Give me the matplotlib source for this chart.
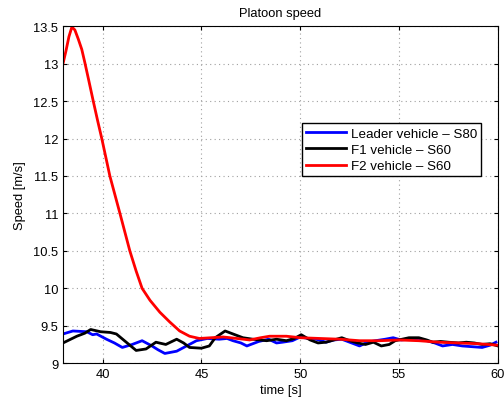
import matplotlib
matplotlib.use("Agg")
import matplotlib.pyplot as plt

plt.rcParams['font.family'] = ['Liberation Sans', 'DejaVu Sans']
plt.rcParams['font.size'] = 9.3

# Leader vehicle - S80
leader_t = [38.0, 38.5, 39.2, 39.5, 39.7, 40.2, 40.6, 41.0, 41.5, 42.0, 42.5, 42.8,
            43.15, 43.75, 44.25, 44.75, 45.3, 45.9, 46.3, 46.6, 47.0, 47.3, 47.9,
            48.4, 48.8, 49.1, 49.6, 50.0, 50.4, 50.8, 51.3, 51.7, 52.1, 52.6, 53.0,
            53.4, 53.8, 54.3, 54.7, 55.1, 55.5, 56.0, 56.4, 56.8, 57.2, 57.7, 58.2,
            58.7, 59.2, 59.6, 59.9]
leader_v = [9.39, 9.43, 9.42, 9.38, 9.39, 9.32, 9.27, 9.21, 9.25, 9.30, 9.23, 9.18,
            9.13, 9.16, 9.23, 9.30, 9.33, 9.32, 9.33, 9.30, 9.27, 9.23, 9.29,
            9.32, 9.27, 9.28, 9.30, 9.35, 9.33, 9.32, 9.28, 9.31, 9.32, 9.27, 9.23,
            9.28, 9.30, 9.32, 9.34, 9.31, 9.32, 9.33, 9.30, 9.27, 9.23, 9.25, 9.23,
            9.22, 9.21, 9.24, 9.28]

# F1 vehicle - S60
f1_t = [38.0, 38.7, 39.1, 39.4, 39.9, 40.4, 40.7, 41.2, 41.7, 42.2, 42.7, 43.2,
        43.75, 44.1, 44.4, 45.0, 45.4, 45.7, 46.2, 46.6, 47.1, 47.6, 48.3, 48.8,
        49.3, 49.7, 50.05, 50.5, 50.9, 51.3, 51.7, 52.1, 52.5, 52.9, 53.3, 53.7,
        54.1, 54.5, 54.8, 55.5, 56.0, 56.4, 56.7, 57.1, 57.5, 58.0, 58.4, 58.8,
        59.2, 59.6, 60.0]
f1_v = [9.27, 9.36, 9.40, 9.45, 9.42, 9.41, 9.39, 9.28, 9.17, 9.19, 9.28, 9.25,
        9.32, 9.27, 9.21, 9.20, 9.23, 9.34, 9.43, 9.39, 9.34, 9.32, 9.30, 9.32,
        9.30, 9.33, 9.38, 9.31, 9.27, 9.28, 9.31, 9.34, 9.30, 9.27, 9.25, 9.28,
        9.23, 9.25, 9.30, 9.34, 9.34, 9.31, 9.28, 9.29, 9.28, 9.27, 9.28, 9.27,
        9.25, 9.26, 9.23]

# F2 vehicle - S60
f2_t = [38.0, 38.15, 38.3, 38.45, 38.6, 38.77, 38.95, 39.1, 39.3, 39.53, 39.75,
        39.97, 40.37, 40.88, 41.38, 41.7, 42.0, 42.4, 42.9, 43.4, 43.9, 44.4,
        44.9, 45.5, 46.1, 46.8, 47.44, 48.0, 48.45, 49.3, 50.0, 51.0, 52.0, 53.0,
        54.0, 55.0, 56.0, 57.0, 58.0, 59.0, 60.0]
f2_v = [13.0, 13.17, 13.36, 13.49, 13.45, 13.33, 13.19, 13.02, 12.78, 12.5, 12.24,
        11.99, 11.5, 11.0, 10.5, 10.23, 10.0, 9.84, 9.68, 9.55, 9.43, 9.36,
        9.33, 9.34, 9.35, 9.33, 9.31, 9.34, 9.36, 9.36, 9.34, 9.33, 9.32, 9.30,
        9.30, 9.31, 9.30, 9.28, 9.27, 9.26, 9.24]

fig = plt.figure(figsize=(5.04, 4.06), dpi=100)
ax = fig.add_axes([0.125, 0.103, 0.863, 0.830])

ax.plot(leader_t, leader_v, color='#0000ff', lw=2, label='Leader vehicle \u2013 S80')
ax.plot(f1_t, f1_v, color='black', lw=2, label='F1 vehicle \u2013 S60')
ax.plot(f2_t, f2_v, color='#ff0000', lw=2, label='F2 vehicle \u2013 S60')

ax.set_xlim(38, 60)
ax.set_ylim(9, 13.5)
ax.set_xticks([40, 45, 50, 55, 60])
ax.set_yticks([9, 9.5, 10, 10.5, 11, 11.5, 12, 12.5, 13, 13.5])
ax.set_yticklabels(['9', '9.5', '10', '10.5', '11', '11.5', '12', '12.5', '13', '13.5'])
ax.tick_params(direction='in', top=True, right=True, length=3, labelsize=9.3)
ax.grid(True, linestyle=(0, (1, 3)), color='#a0a0a0', linewidth=0.8)
ax.set_xlabel('time [s]', labelpad=3)
ax.set_ylabel('Speed [m/s]', labelpad=5)
ax.set_title('Platoon speed', fontsize=9.3, pad=7)

leg = ax.legend(loc='upper left', bbox_to_anchor=(0.549, 0.712), fancybox=False,
                edgecolor='black', framealpha=1, borderaxespad=0, handlelength=3.0,
                labelspacing=0.3, borderpad=0.3, handletextpad=0.4, fontsize=9.6)
leg.get_frame().set_linewidth(1)

fig.savefig('out.png', dpi=100)
